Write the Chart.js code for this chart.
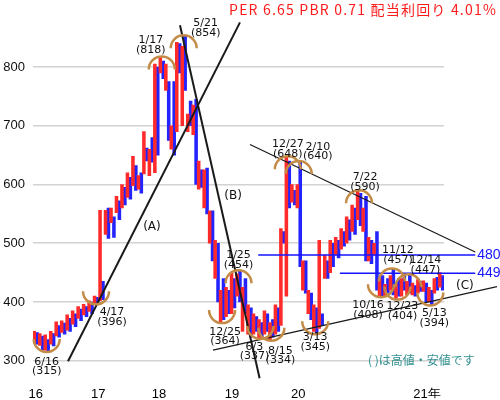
<!DOCTYPE html>
<html>
<head>
<meta charset="utf-8">
<script src="https://cdn.jsdelivr.net/npm/chart.js@4"></script>
<style>
  html, body { margin: 0; padding: 0; background: #fff; }
  #wrap { width: 500px; height: 400px; }
</style>
</head>
<body>
<div id="wrap"><canvas id="stockChart"></canvas></div>
<script>
// year labels sit at these period positions
const yearTicks = [0, 11.4, 22.5, 35.8, 47.9, 71.4];
const yearLabels = ['16', '17', '18', '19', '20', '21年'];
const priceTicks = [300, 400, 500, 600, 700, 800];

// each period: red bar range and blue bar range [low, high]
const redRanges = [
  [330, 350], [326, 346], [318, 344], [328, 350], [342, 366], [348, 368], [352, 378], [362, 385],
  [372, 392], [378, 396], [384, 402], [396, 410], [402, 556], [515, 556], [535, 560], [552, 580],
  [560, 600], [578, 620], [598, 648], [592, 615], [618, 690], [615, 660], [620, 805], [790, 818],
  [760, 805], [660, 700], [690, 842], [700, 835], [690, 720], [685, 735], [592, 640], [560, 625],
  [500, 555], [440, 505], [364, 420], [375, 425], [380, 450], [410, 448], [350, 425], [345, 395],
  [345, 380], [337, 370], [345, 385], [334, 365], [345, 395], [360, 525], [410, 648], [570, 600],
  [560, 600], [420, 470], [380, 420], [350, 395], [355, 505], [440, 480], [450, 505], [480, 510],
  [490, 525], [500, 545], [520, 565], [540, 590], [520, 560], [470, 510], [480, 500], [408, 440],
  [410, 430], [420, 445], [404, 430], [410, 440], [412, 435], [412, 432], [415, 438], [418, 436],
  [400, 425], [415, 440], [425, 450]
];
const blueRanges = [
  [328, 348], [318, 342], [315, 336], [325, 346], [340, 360], [345, 364], [350, 372], [358, 380],
  [368, 388], [375, 392], [380, 400], [398, 408], [404, 435], [508, 560], [510, 545], [540, 572],
  [565, 595], [575, 612], [590, 632], [585, 620], [640, 662], [638, 680], [650, 800], [780, 810],
  [675, 775], [650, 775], [790, 840], [760, 854], [700, 742], [600, 745], [595, 625], [550, 628],
  [470, 555], [400, 500], [370, 440], [380, 420], [390, 440], [400, 454], [380, 440], [340, 390],
  [350, 375], [340, 365], [350, 380], [340, 370], [350, 390], [500, 520], [560, 640], [565, 590],
  [460, 640], [415, 470], [370, 415], [345, 390], [360, 380], [440, 470], [460, 500], [475, 505],
  [495, 520], [505, 540], [515, 560], [530, 585], [470, 580], [465, 505], [420, 520], [410, 445],
  [415, 440], [412, 457], [410, 440], [420, 445], [415, 447], [410, 428], [418, 435], [400, 432],
  [394, 420], [420, 442], [420, 445]
];
const periods = redRanges.map((r, i) => i);

// highs / lows that carry a date note
const noteDates  = ['6/16', '4/17', '1/17', '5/21', '12/25', '1/25', '6/3', '8/15', '12/27', '2/10', '3/13', '7/22', '10/16', '11/12', '12/23', '12/14', '5/13'];
const noteValues = [315, 396, 818, 854, 364, 454, 337, 334, 648, 640, 345, 590, 408, 457, 404, 447, 394];
const noteIdx    = [2, 11, 23, 27, 34, 37, 41, 43, 46, 48, 51, 59, 63, 65, 66, 68, 72];
const noteKinds  = ['low', 'low', 'high', 'high', 'low', 'high', 'low', 'low', 'high', 'high', 'low', 'high', 'low', 'high', 'low', 'high', 'low'];
// label offsets in px from the marked point
const noteOffsets = [[0, 10], [16, 8], [-11, -16], [22, -12], [3, 9], [0, -15], [-6, 8], [9, 10], [0, -12], [19, -14], [0, 3], [6, -13], [-13, 8], [6, -18], [5, 7], [17, -14], [4, 8]];

const levelValues = [480, 449];
const levelStarts = [40.6, 55.5];
const levelEnd = 80.2;

// trend lines in [period, price]
const trendLines = [
  { from: [5.89, 299], to: [37.27, 876], width: 2 },
  { from: [26.32, 871], to: [40.85, 270], width: 2 },
  { from: [32.35, 318], to: [84.17, 426], width: 1.3 },
  { from: [39.1, 668], to: [80.2, 485], width: 1.2 }
];
const lineTags = [
  { text: '(A)', at: [21.2, 528] },
  { text: '(B)', at: [36.0, 580] },
  { text: '(C)', at: [78.3, 428] }
];

const notesPlugin = {
  id: 'notes',
  afterDraw(chart) {
    const { ctx, scales: { x, y } } = chart;
    ctx.save();

    // trend lines
    ctx.strokeStyle = '#1a1a1a';
    trendLines.forEach(l => {
      ctx.lineWidth = l.width;
      ctx.beginPath();
      ctx.moveTo(x.getPixelForValue(l.from[0]), y.getPixelForValue(l.from[1]));
      ctx.lineTo(x.getPixelForValue(l.to[0]), y.getPixelForValue(l.to[1]));
      ctx.stroke();
    });

    // horizontal levels
    ctx.strokeStyle = '#1414ff';
    ctx.fillStyle = '#1414ff';
    ctx.lineWidth = 1.5;
    ctx.font = '14px "Liberation Sans", Arial, sans-serif';
    ctx.textAlign = 'left';
    ctx.textBaseline = 'middle';
    levelValues.forEach((v, i) => {
      const py = y.getPixelForValue(v);
      const xe = x.getPixelForValue(levelEnd);
      ctx.beginPath();
      ctx.moveTo(x.getPixelForValue(levelStarts[i]), py);
      ctx.lineTo(xe, py);
      ctx.stroke();
      ctx.fillText(String(v), xe + 2, py);
    });

    // arcs and date notes
    ctx.font = '11px "DejaVu Sans", sans-serif';
    ctx.textAlign = 'center';
    noteDates.forEach((d, i) => {
      const px = x.getPixelForValue(noteIdx[i]);
      const py = y.getPixelForValue(noteValues[i]);
      const high = noteKinds[i] === 'high';
      ctx.strokeStyle = '#c38b45';
      ctx.lineWidth = 2.5;
      ctx.beginPath();
      if (high) ctx.arc(px, py + 13, 13, Math.PI, 2 * Math.PI);
      else ctx.arc(px, py - 13, 13, 0, Math.PI);
      ctx.stroke();
      const lx = px + noteOffsets[i][0];
      const ly = py + noteOffsets[i][1];
      ctx.fillStyle = '#111';
      ctx.fillText(d, lx, ly);
      ctx.fillText('(' + noteValues[i] + ')', lx, ly + 9.5);
    });

    // line tags
    ctx.font = '12px "DejaVu Sans", sans-serif';
    lineTags.forEach(t => {
      ctx.fillText(t.text, x.getPixelForValue(t.at[0]), y.getPixelForValue(t.at[1]));
    });

    // header and footnote
    ctx.textAlign = 'right';
    ctx.fillStyle = '#ff1a1a';
    ctx.font = '14px "Noto Sans CJK JP", sans-serif';
    ctx.letterSpacing = '1.2px';
    ctx.fillText('PER 6.65 PBR 0.71 配当利回り 4.01%', 497, 10);
    ctx.letterSpacing = '0px';
    ctx.textAlign = 'left';
    ctx.fillStyle = '#2f8f8f';
    ctx.font = '12px "Noto Sans CJK JP", sans-serif';
    ctx.fillText('( )は高値・安値です', 368, 360);

    ctx.restore();
  }
};

new Chart(document.getElementById('stockChart'), {
  type: 'bar',
  data: {
    datasets: [
      {
        label: 'red',
        data: periods.map(i => ({ x: i, y: redRanges[i] })),
        backgroundColor: '#ff2b2b'
      },
      {
        label: 'blue',
        data: periods.map(i => ({ x: i, y: blueRanges[i] })),
        backgroundColor: '#2323ff'
      }
    ]
  },
  options: {
    responsive: true,
    maintainAspectRatio: false,
    animation: false,
    layout: { padding: { top: 20, right: 56, left: 0, bottom: 0 } },
    datasets: { bar: { barThickness: 2.9 } },
    plugins: {
      legend: { display: false },
      tooltip: { enabled: false }
    },
    scales: {
      x: {
        type: 'linear',
        min: -0.5,
        max: 74.5,
        offset: false,
        grid: { display: false },
        border: { display: false },
        afterBuildTicks: s => { s.ticks = yearTicks.map(v => ({ value: v })); },
        afterFit: s => { s.height = 14; },
        ticks: {
          autoSkip: false,
          maxRotation: 0,
          padding: -6,
          color: '#000',
          font: { size: 13, family: '"Liberation Sans", Arial, sans-serif' },
          callback: (v, i) => yearLabels[i]
        }
      },
      y: {
        min: 260,
        max: 880,
        grid: { color: '#d2d2d2', lineWidth: 1.5, drawTicks: false },
        border: { display: false },
        afterBuildTicks: s => { s.ticks = priceTicks.map(v => ({ value: v })); },
        afterFit: s => { s.width = 33; },
        ticks: {
          padding: 8,
          color: '#111',
          font: { size: 13, family: '"Liberation Sans", Arial, sans-serif' }
        }
      }
    }
  },
  plugins: [notesPlugin]
});
</script>
</body>
</html>
